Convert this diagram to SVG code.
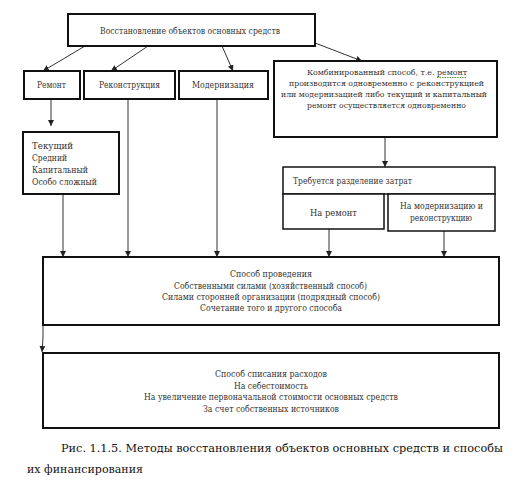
<svg xmlns="http://www.w3.org/2000/svg" width="515" height="485" viewBox="0 0 515 485">
<style>
.box{fill:#fff;stroke:#111;stroke-width:2}
.t{font-family:"DejaVu Serif",serif;font-size:9px;fill:#333}
.s{font-size:8.2px}
.cap{font-family:"DejaVu Serif",serif;font-size:11px;fill:#111}
.ln{stroke:#333;stroke-width:1;fill:none;marker-end:url(#ah)}
</style>
<defs>
<marker id="ah" viewBox="0 0 6 6" refX="6" refY="3" markerWidth="6" markerHeight="6" markerUnits="userSpaceOnUse" orient="auto">
<path d="M0,0 L6,3 L0,6 z" fill="#222"/>
</marker>
</defs>
<rect width="515" height="485" fill="#fff"/>
<g id="connectors">
<line class="ln" x1="85" y1="46" x2="43" y2="71"/>
<line class="ln" x1="148" y1="46" x2="111" y2="71"/>
<line class="ln" x1="222" y1="46" x2="233" y2="71"/>
<line class="ln" x1="315" y1="43" x2="362" y2="61"/>
<line class="ln" x1="51" y1="99" x2="51" y2="126"/>
<line class="ln" x1="63" y1="194" x2="63" y2="257"/>
<line class="ln" x1="128" y1="99" x2="128" y2="257"/>
<line class="ln" x1="217" y1="99" x2="217" y2="257"/>
<line class="ln" x1="385" y1="137" x2="385" y2="167"/>
<line class="ln" x1="329" y1="229" x2="329" y2="257"/>
<line class="ln" x1="444" y1="231" x2="444" y2="257"/>
<polyline class="ln" points="43,325 43,338 42,352"/>
</g>
<g id="n-top">
<rect class="box" x="68" y="14" width="247" height="32"/>
<text class="t" x="100" y="34" textLength="180" lengthAdjust="spacingAndGlyphs">Восстановление объектов основных средств</text>
</g>
<g id="n-remont">
<rect class="box" x="24" y="71" width="56" height="28"/>
<text class="t" x="37" y="88" textLength="29" lengthAdjust="spacingAndGlyphs">Ремонт</text>
</g>
<g id="n-rekon">
<rect class="box" x="84" y="71" width="91" height="28"/>
<text class="t" x="99" y="88" textLength="61" lengthAdjust="spacingAndGlyphs">Реконструкция</text>
</g>
<g id="n-modern">
<rect class="box" x="179" y="71" width="89" height="28"/>
<text class="t" x="192" y="88" textLength="62" lengthAdjust="spacingAndGlyphs">Модернизация</text>
</g>
<g id="n-comb">
<rect class="box" x="274" y="61" width="223" height="76"/>
<text class="t s" x="307" y="75" textLength="160" lengthAdjust="spacingAndGlyphs">Комбинированный способ, т.е. ремонт</text>
<line x1="437" y1="77.5" x2="466" y2="77.5" stroke="#5a9a3a" stroke-width="1" stroke-dasharray="1.5,1"/>
<text class="t s" x="289" y="86" textLength="195" lengthAdjust="spacingAndGlyphs">производится одновременно с  реконструкцией</text>
<text class="t s" x="281" y="97" textLength="206" lengthAdjust="spacingAndGlyphs">или модернизацией либо текущий и капитальный</text>
<text class="t s" x="307" y="108" textLength="159" lengthAdjust="spacingAndGlyphs">ремонт осуществляется одновременно</text>
</g>
<g id="n-vidy">
<rect class="box" x="23" y="132" width="96" height="62"/>
<text class="t" x="32" y="149" textLength="41" lengthAdjust="spacingAndGlyphs">Текущий</text>
<text class="t" x="32" y="161" textLength="35" lengthAdjust="spacingAndGlyphs">Средний</text>
<text class="t" x="32" y="173" textLength="56" lengthAdjust="spacingAndGlyphs">Капитальный</text>
<text class="t" x="32" y="185" textLength="65" lengthAdjust="spacingAndGlyphs">Особо сложный</text>
</g>
<g id="n-razd">
<rect class="box" x="283" y="167" width="212" height="27" style="stroke-width:1.5"/>
<text class="t" x="293" y="184" textLength="119" lengthAdjust="spacingAndGlyphs">Требуется разделение затрат</text>
</g>
<g id="n-naremont">
<rect class="box" x="283" y="194" width="101" height="35" style="stroke-width:1.5"/>
<text class="t" x="310" y="216" textLength="47" lengthAdjust="spacingAndGlyphs">На ремонт</text>
</g>
<g id="n-namodern">
<rect class="box" x="388" y="194" width="107" height="37" style="stroke-width:1.5"/>
<text class="t" x="400" y="209" textLength="83" lengthAdjust="spacingAndGlyphs">На модернизацию и</text>
<text class="t" x="410" y="221" textLength="62" lengthAdjust="spacingAndGlyphs">реконструкцию</text>
</g>
<g id="n-sposob">
<rect class="box" x="43" y="257" width="456" height="68"/>
<text class="t" x="230" y="277" textLength="82" lengthAdjust="spacingAndGlyphs">Способ проведения</text>
<text class="t" x="174" y="289" textLength="193" lengthAdjust="spacingAndGlyphs">Собственными силами (хозяйственный способ)</text>
<text class="t" x="162" y="300" textLength="218" lengthAdjust="spacingAndGlyphs">Силами сторонней организации (подрядный способ)</text>
<text class="t" x="200" y="311" textLength="142" lengthAdjust="spacingAndGlyphs">Сочетание того и другого способа</text>
</g>
<g id="n-spisanie">
<rect class="box" x="43" y="353" width="456" height="75"/>
<text class="t" x="215" y="377" textLength="112" lengthAdjust="spacingAndGlyphs">Способ списания расходов</text>
<text class="t" x="234" y="389" textLength="74" lengthAdjust="spacingAndGlyphs">На себестоимость</text>
<text class="t" x="144" y="400" textLength="254" lengthAdjust="spacingAndGlyphs">На увеличение первоначальной стоимости основных средств</text>
<text class="t" x="203" y="412" textLength="136" lengthAdjust="spacingAndGlyphs">За счет собственных источников</text>
</g>
<text class="cap" x="61" y="452" textLength="442" lengthAdjust="spacingAndGlyphs">Рис. 1.1.5. Методы восстановления объектов основных средств и способы</text>
<text class="cap" x="27" y="473" textLength="116" lengthAdjust="spacingAndGlyphs">их финансирования</text>
</svg>
